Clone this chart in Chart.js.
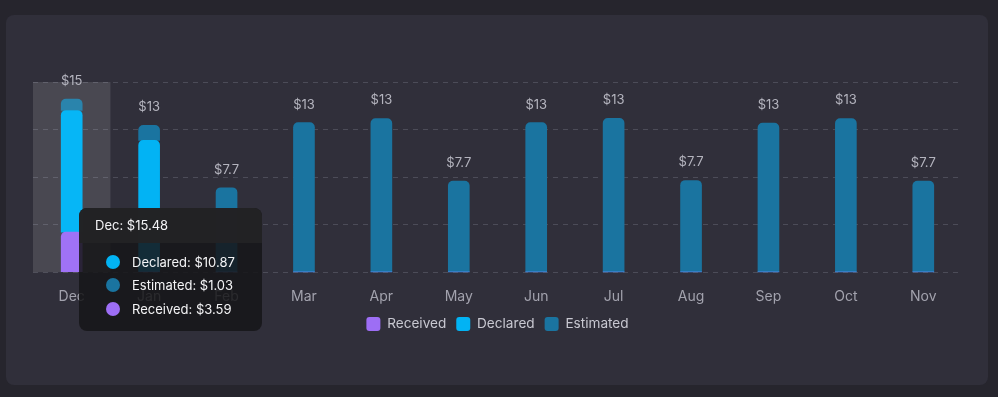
<!DOCTYPE html>
<html>
<head>
<meta charset="utf-8">
<script src="https://cdn.jsdelivr.net/npm/chart.js@4/dist/chart.umd.min.js"></script>
<style>
  html, body { margin: 0; padding: 0; background: #26252d; overflow: hidden; }
  .card { position: absolute; left: 6px; top: 15px; width: 982px; height: 370px; background: #302f3a; border-radius: 8px; }
  .wrap { position: absolute; left: 0; top: 0; width: 998px; height: 397px; }
  #tip { position: absolute; pointer-events: none; opacity: 0; border-radius: 8px; overflow: hidden;
         background: rgba(22, 22, 24, 0.86); color: #f4f4f6; font: 13px Inter, sans-serif; white-space: nowrap; }
  #tip .head { padding: 9px 16px; line-height: 17px; background: rgba(35, 35, 37, 0.97); }
  #tip .body { padding: 7px 27px 10px 27px; }
  #tip .row { display: flex; align-items: center; height: 23.5px; }
  #tip .dot { width: 14px; height: 14px; border-radius: 50%; margin-right: 12px; }
</style>
</head>
<body>
<div class="card"></div>
<div class="wrap">
  <canvas id="chart"></canvas>
  <div id="tip"></div>
</div>
<script>
// months and series
const months = ['Dec', 'Jan', 'Feb', 'Mar', 'Apr', 'May', 'Jun', 'Jul', 'Aug', 'Sep', 'Oct', 'Nov'];
const received = [3.586, 0, 0, 0, 0, 0, 0, 0, 0, 0, 0, 0];
const declared = [10.868, 11.78, 0, 0, 0, 0, 0, 0, 0, 0, 0, 0];
const estimated = [1.026, 1.35, 7.55, 13.37, 13.73, 8.14, 13.37, 13.75, 8.2, 13.33, 13.73, 8.14];
// labels shown above the bars
const topLabels = ['$15', '$13', '$7.7', '$13', '$13', '$7.7', '$13', '$13', '$7.7', '$13', '$13', '$7.7'];

Chart.defaults.font.family = 'Inter';

// tooltip sits where the cursor is
Chart.Tooltip.positioners.cursor = function (items, eventPosition) {
    if (!items.length || !eventPosition) return false;
    return { x: eventPosition.x, y: eventPosition.y };
};

function htmlTooltip(context) {
    const { chart, tooltip } = context;
    const tip = document.getElementById('tip');
    if (tooltip.opacity === 0) {
        tip.style.opacity = 0;
        return;
    }
    const points = tooltip.dataPoints.slice().sort((a, b) => a.dataset.label.localeCompare(b.dataset.label));
    const i = points[0].dataIndex;
    const total = received[i] + declared[i] + estimated[i];
    let html = '<div class="head">' + months[i] + ': $' + total.toFixed(2) + '</div><div class="body">';
    points.forEach(p => {
        html += '<div class="row"><span class="dot" style="background:' + p.dataset.backgroundColor + '"></span>' +
            p.dataset.label + ': $' + p.raw.toFixed(2) + '</div>';
    });
    html += '</div>';
    tip.innerHTML = html;
    tip.style.left = chart.canvas.offsetLeft + tooltip.caretX + 'px';
    tip.style.top = chart.canvas.offsetTop + tooltip.caretY + 'px';
    tip.style.opacity = 1;
}

// shaded column behind the hovered month
const hoverBand = {
    id: 'hoverBand',
    beforeDatasetsDraw(chart) {
        const active = chart.getActiveElements();
        if (!active.length) return;
        const { ctx, chartArea, scales: { x } } = chart;
        const w = (chartArea.right - chartArea.left) / months.length;
        const cx = x.getPixelForValue(active[0].index);
        ctx.save();
        ctx.fillStyle = 'rgba(255,255,255,0.12)';
        ctx.fillRect(cx - w / 2, chartArea.top, w, chartArea.bottom - chartArea.top);
        ctx.restore();
    }
};

// total label on top of each stack
const totalLabels = {
    id: 'totalLabels',
    afterDatasetsDraw(chart) {
        const { ctx, scales: { x, y } } = chart;
        ctx.save();
        ctx.font = '13px Inter';
        ctx.fillStyle = '#b4b4be';
        ctx.textAlign = 'center';
        ctx.textBaseline = 'middle';
        months.forEach((m, i) => {
            const total = received[i] + declared[i] + estimated[i];
            ctx.fillText(topLabels[i], x.getPixelForValue(i), y.getPixelForValue(total) - 18);
        });
        ctx.restore();
    }
};

// pull the legend a little closer to the month labels
const legendNudge = {
    id: 'legendNudge',
    afterLayout(chart) {
        chart.legend.top -= 14;
        chart.legend.bottom -= 14;
    }
};

const barStyle = {
    barThickness: 21,
    borderRadius: { topLeft: 5, topRight: 5 },
    borderSkipped: 'start'
};

const chart = new Chart(document.getElementById('chart'), {
    type: 'bar',
    data: {
        labels: months,
        datasets: [
            { label: 'Received', data: received, backgroundColor: '#9d6ef5', hoverBackgroundColor: '#a072f6', ...barStyle },
            { label: 'Declared', data: declared, backgroundColor: '#02b3f4', hoverBackgroundColor: '#06b6f6', ...barStyle },
            { label: 'Estimated', data: estimated, backgroundColor: '#1a74a0', hoverBackgroundColor: '#2a84ac', ...barStyle }
        ]
    },
    options: {
        responsive: true,
        maintainAspectRatio: false,
        animation: false,
        layout: {
            padding: { left: 33, right: 36, top: 82, bottom: 42 }
        },
        scales: {
            x: {
                stacked: true,
                grid: { display: false, drawTicks: false },
                border: { display: false },
                ticks: { color: '#a2a2ad', padding: 16, font: { size: 14 } }
            },
            y: {
                stacked: true,
                min: 0,
                max: 17,
                grid: { color: '#4c4c58', drawTicks: false },
                border: { display: false, dash: [5, 5] },
                ticks: { display: false, count: 5 }
            }
        },
        plugins: {
            legend: {
                position: 'bottom',
                labels: {
                    boxWidth: 14,
                    boxHeight: 14,
                    useBorderRadius: true,
                    borderRadius: 3,
                    color: '#c8c8d1',
                    font: { size: 13.6 }
                }
            },
            tooltip: {
                enabled: false,
                mode: 'index',
                position: 'cursor',
                external: htmlTooltip
            }
        }
    },
    plugins: [hoverBand, totalLabels, legendNudge]
});

// Dec is hovered in the picture
const active = [0, 1, 2].map(d => ({ datasetIndex: d, index: 0 }));
chart.setActiveElements(active);
chart.tooltip.setActiveElements(active, { x: 79, y: 208 });
chart.update();
</script>
</body>
</html>
